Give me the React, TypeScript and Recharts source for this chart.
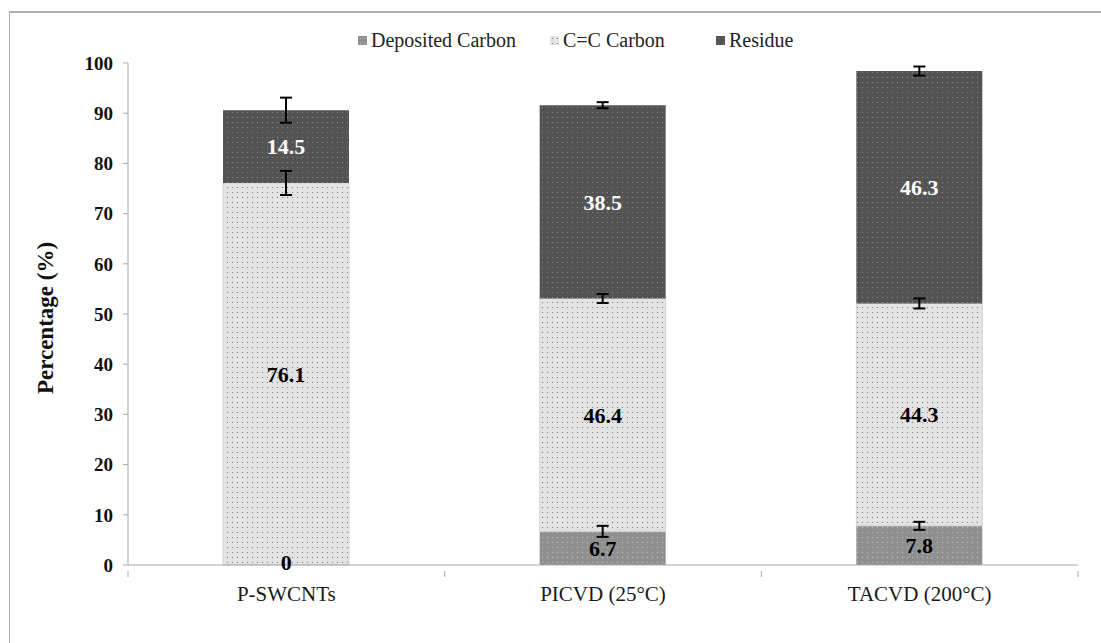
import { BarChart, Bar, XAxis, YAxis, Legend, ErrorBar, LabelList, ReferenceDot } from 'recharts';

const categories = ['P-SWCNTs', 'PICVD (25°C)', 'TACVD (200°C)'];
const depositedCarbon = [0, 6.7, 7.8];
const ccCarbon = [76.1, 46.4, 44.3];
const residue = [14.5, 38.5, 46.3];
const depositedErr = [0, 1.1, 0.8];
const ccErr = [2.4, 0.9, 1.0];
const residueErr = [2.5, 0.6, 0.9];
const yTicks = [0, 10, 20, 30, 40, 50, 60, 70, 80, 90, 100];

const data = categories.map((name, i) => ({
  name,
  deposited: depositedCarbon[i],
  cc: ccCarbon[i],
  residue: residue[i],
  depErr: depositedErr[i] || null,
  ccErr: ccErr[i],
  resErr: residueErr[i],
}));

const serif = 'Liberation Serif, Tinos, Times New Roman, Times, DejaVu Serif, Noto Serif, serif';
const axisColor = '#a9a9a9';
const plotLeft = 128;
const plotRight = 1078;
const band = (plotRight - plotLeft) / categories.length;

const legendItems = [
  { label: 'Deposited Carbon', fill: 'url(#dotDep)', w: 192 },
  { label: 'C=C Carbon', fill: 'url(#dotCC)', w: 166 },
  { label: 'Residue', fill: 'url(#dotRes)', w: 90 },
];

function LegendContent() {
  return (
    <div style={{ display: 'flex', alignItems: 'center', fontFamily: serif, fontSize: 20, color: '#222', lineHeight: '22px' }}>
      {legendItems.map((it) => (
        <div key={it.label} style={{ display: 'flex', alignItems: 'center', width: it.w }}>
          <svg width={9} height={9} style={{ marginRight: 4 }}>
            <rect width={9} height={9} fill={it.fill} />
          </svg>
          <span>{it.label}</span>
        </div>
      ))}
    </div>
  );
}

function XTick(props: any) {
  const { x, y, payload, index } = props;
  const left = x - band / 2;
  return (
    <g>
      <line x1={left} y1={y - 2} x2={left} y2={y + 4} stroke={axisColor} />
      {index === categories.length - 1 && (
        <line x1={x + band / 2} y1={y - 2} x2={x + band / 2} y2={y + 4} stroke={axisColor} />
      )}
      <text x={x} y={y + 28} textAnchor="middle" fontFamily={serif} fontSize={21} fill="#1a1a1a">
        {payload.value}
      </text>
    </g>
  );
}

const valueLabel = { fontFamily: serif, fontSize: 22, fontWeight: 'bold' as const };

export default function App() {
  return (
    <div style={{ position: 'fixed', left: 0, top: 0, width: 1101, height: 643, background: '#fff' }}>
      <div style={{ position: 'absolute', left: 9, top: 11, right: 0, bottom: 0, borderTop: '2px solid #b0b0b0', borderLeft: '1px solid #b0b0b0' }} />
      <div style={{ position: 'absolute', left: 0, top: 0 }}>
        <BarChart width={1101} height={643} data={data} margin={{ top: 41, right: 23, left: 68, bottom: 38 }} barSize={126}>
          <defs>
            <pattern id="dotDep" width={5} height={5} patternUnits="userSpaceOnUse">
              <rect width={5} height={5} fill="#8f8f8f" />
              <circle cx={2.5} cy={2.5} r={0.7} fill="#b8b8b8" />
            </pattern>
            <pattern id="dotCC" width={5} height={5} patternUnits="userSpaceOnUse">
              <rect width={5} height={5} fill="#e3e3e3" />
              <circle cx={2.5} cy={2.5} r={0.6} fill="#6a6a6a" />
            </pattern>
            <pattern id="dotRes" width={5} height={5} patternUnits="userSpaceOnUse">
              <rect width={5} height={5} fill="#535353" />
              <circle cx={2.5} cy={2.5} r={0.6} fill="#8d8d8d" />
            </pattern>
          </defs>
          <XAxis dataKey="name" height={40} stroke={axisColor} tickLine={false} tick={<XTick />} interval={0} />
          <YAxis
            width={60}
            domain={[0, 100]}
            ticks={yTicks}
            stroke={axisColor}
            tickSize={5}
            tickMargin={10}
            tick={{ fill: '#111', fontFamily: serif, fontSize: 19, fontWeight: 'bold' }}
            label={{ value: 'Percentage (%)', angle: -90, position: 'insideLeft', dx: -28, dy: 4, style: { fontFamily: serif, fontSize: 23, fontWeight: 'bold', fill: '#111', textAnchor: 'middle' } }}
          />
          <Legend verticalAlign="top" content={<LegendContent />} wrapperStyle={{ top: 29, left: 358, width: 'auto' }} />
          <Bar dataKey="deposited" name="Deposited Carbon" stackId="s" fill="url(#dotDep)" isAnimationActive={false}>
            <ErrorBar dataKey="depErr" width={6} stroke="#000" strokeWidth={2} />
            <LabelList dataKey="deposited" position="center" fill="#000" {...valueLabel} />
          </Bar>
          <Bar dataKey="cc" name="C=C Carbon" stackId="s" fill="url(#dotCC)" stroke="#d4d4d4" isAnimationActive={false}>
            <ErrorBar dataKey="ccErr" width={6} stroke="#000" strokeWidth={2} />
            <LabelList dataKey="cc" position="center" fill="#000" {...valueLabel} />
          </Bar>
          <Bar dataKey="residue" name="Residue" stackId="s" fill="url(#dotRes)" isAnimationActive={false}>
            <ErrorBar dataKey="resErr" width={6} stroke="#000" strokeWidth={2} />
            <LabelList dataKey="residue" position="center" fill="#fff" {...valueLabel} />
          </Bar>
          {data
            .filter((d) => d.deposited === 0)
            .map((d) => (
              <ReferenceDot
                key={d.name}
                x={d.name}
                y={d.deposited}
                r={0}
                stroke="none"
                label={{ value: String(d.deposited), position: 'center', fill: '#000', dy: -3, ...valueLabel }}
              />
            ))}
        </BarChart>
      </div>
    </div>
  );
}
